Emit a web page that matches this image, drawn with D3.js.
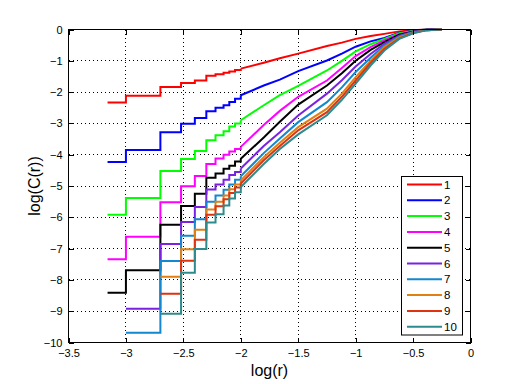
<!DOCTYPE html>
<meta charset="utf-8">
<head>
  <script src="https://d3js.org/d3.v7.min.js"></script>
  <style>
    body { margin: 0; background: #fff; }
    .axis text { font: 11px "Liberation Sans", Arial, sans-serif; fill: #000; }
    .axis path, .axis line { stroke: #000; shape-rendering: crispEdges; }
    .grid line { stroke: #000; stroke-dasharray: 1,3; shape-rendering: crispEdges; }
    .curve { fill: none; stroke-width: 2px; }
    .label { font: 16px "Liberation Sans", Arial, sans-serif; fill: #000; }
    .legend text { font: 11.5px "Liberation Sans", Arial, sans-serif; fill: #000; }
  </style>
</head>
<body>
<script>

// log(r) sample positions: stairs up to -2, then the smoother part
var logR = [-3.16, -3, -2.7, -2.52, -2.4, -2.3, -2.22, -2.15, -2.1, -2.05, -2,
            -1.8, -1.66, -1.5, -1.25, -1.12, -1, -0.87, -0.75, -0.62, -0.5, -0.38, -0.25];
var nStairs = 11;

var seriesNames = ["1", "2", "3", "4", "5", "6", "7", "8", "9", "10"];
var colors = ["#ff0000", "#0000ff", "#00ff00", "#ff00ff", "#000000",
              "#7b22e0", "#1387d0", "#e08010", "#dd3311", "#2e8b8b"];

var s1  = [-2.33, -2.12, -1.84, -1.71, -1.63, -1.48, -1.43, -1.38, -1.34, -1.29, -1.25,
           -1.06, -0.92, -0.77, -0.53, -0.42, -0.3, -0.21, -0.14, -0.06, -0.02, 0, 0];
var s2  = [-4.23, -3.85, -3.28, -3.01, -2.83, -2.61, -2.5, -2.42, -2.32, -2.21, -2.1,
           -1.79, -1.6, -1.33, -0.99, -0.77, -0.55, -0.38, -0.27, -0.1, -0.04, 0, 0];
var s3  = [-5.92, -5.38, -4.52, -4.14, -3.88, -3.54, -3.38, -3.25, -3.1, -3.0, -2.9,
           -2.42, -2.1, -1.8, -1.31, -1.0, -0.7, -0.47, -0.3, -0.12, -0.05, 0, 0];
var s4  = [-7.34, -6.62, -5.52, -5.01, -4.68, -4.3, -4.12, -4.0, -3.9, -3.82, -3.75,
           -3.05, -2.6, -2.15, -1.63, -1.23, -0.85, -0.56, -0.35, -0.15, -0.06, -0.01, 0];
var s5  = [-8.41, -7.69, -6.24, -5.64, -5.25, -4.74, -4.6, -4.45, -4.35, -4.22, -4.13,
           -3.45, -2.95, -2.4, -1.79, -1.4, -1.0, -0.65, -0.4, -0.17, -0.07, -0.01, 0];
var s6  = [null, -8.92, -6.85, -6.15, -5.67, -5.11, -4.95, -4.8, -4.65, -4.55, -4.44,
           -3.72, -3.28, -2.75, -2.05, -1.62, -1.18, -0.78, -0.46, -0.2, -0.08, -0.01, 0];
var s7  = [null, -9.69, -7.4, -6.59, -6.06, -5.5, -5.3, -5.12, -4.95, -4.8, -4.69,
           -3.95, -3.48, -2.96, -2.32, -1.85, -1.36, -0.9, -0.51, -0.22, -0.09, -0.02, 0];
var s8  = [null, null, -7.9, -7.02, -6.4, -5.75, -5.5, -5.3, -5.1, -4.95, -4.82,
           -4.08, -3.62, -3.12, -2.53, -2.05, -1.52, -1.0, -0.56, -0.25, -0.1, -0.02, 0];
var s9  = [null, null, -8.44, -7.39, -6.72, -5.92, -5.65, -5.42, -5.22, -5.05, -4.92,
           -4.18, -3.72, -3.22, -2.64, -2.15, -1.63, -1.07, -0.62, -0.28, -0.11, -0.02, 0];
var s10 = [null, null, -9.08, -7.77, -7.01, -6.17, -5.9, -5.62, -5.4, -5.2, -5.03,
           -4.3, -3.82, -3.35, -2.74, -2.25, -1.73, -1.15, -0.67, -0.3, -0.12, -0.02, 0];
var allSeries = [s1, s2, s3, s4, s5, s6, s7, s8, s9, s10];

var xTicks = [-3.5, -3, -2.5, -2, -1.5, -1, -0.5, 0];
var yTicks = [-10, -9, -8, -7, -6, -5, -4, -3, -2, -1, 0];

var width = 520, height = 384;
var pLeft = 68.5, pRight = 470.5, pTop = 29.5, pBottom = 342.5;

var svg = d3.select("body").append("svg")
    .attr("width", width)
    .attr("height", height);

svg.append("rect").attr("width", width).attr("height", height).attr("fill", "#fff");

var x = d3.scaleLinear().domain([-3.5, 0]).range([pLeft, pRight]);
var y = d3.scaleLinear().domain([-10, 0]).range([pBottom, pTop]);

// dotted grid
var grid = svg.append("g").attr("class", "grid");
grid.selectAll("line.v").data(xTicks.slice(1, -1)).enter().append("line")
    .attr("x1", function(d) { return x(d); }).attr("x2", function(d) { return x(d); })
    .attr("y1", pTop).attr("y2", pBottom);
grid.selectAll("line.h").data(yTicks.slice(1, -1)).enter().append("line")
    .attr("x1", pLeft).attr("x2", pRight)
    .attr("y1", function(d) { return y(d); }).attr("y2", function(d) { return y(d); });

// curves
var stairs = d3.line()
    .defined(function(d) { return d[1] != null; })
    .x(function(d) { return x(d[0]); })
    .y(function(d) { return y(d[1]); })
    .curve(d3.curveStepAfter);
var smooth = d3.line()
    .x(function(d) { return x(d[0]); })
    .y(function(d) { return y(d[1]); });

allSeries.forEach(function(vals, i) {
  var pts = logR.map(function(r, j) { return [r, vals[j]]; });
  svg.append("path")
      .attr("class", "curve")
      .attr("stroke", colors[i])
      .attr("d", stairs(pts.slice(0, nStairs)) + smooth(pts.slice(nStairs - 1)));
});

// axes with inward ticks on all four sides
svg.append("g").attr("class", "axis")
    .attr("transform", "translate(0," + pBottom + ")")
    .call(d3.axisBottom(x).tickValues(xTicks).tickSize(-5).tickPadding(7)
      .tickFormat(function(d) { return d3.format("")(d); }))
    .call(function(g) { g.select(".domain").remove(); });
svg.append("g").attr("class", "axis")
    .attr("transform", "translate(0," + pTop + ")")
    .call(d3.axisTop(x).tickValues(xTicks).tickSize(-5).tickFormat(""))
    .call(function(g) { g.select(".domain").remove(); });
svg.append("g").attr("class", "axis")
    .attr("transform", "translate(" + pLeft + ",0)")
    .call(d3.axisLeft(y).tickValues(yTicks).tickSize(-5).tickPadding(6)
      .tickFormat(function(d) { return d3.format("")(d); }))
    .call(function(g) { g.select(".domain").remove(); });
svg.append("g").attr("class", "axis")
    .attr("transform", "translate(" + pRight + ",0)")
    .call(d3.axisRight(y).tickValues(yTicks).tickSize(-5).tickFormat(""))
    .call(function(g) { g.select(".domain").remove(); });

svg.append("rect")
    .attr("x", pLeft).attr("y", pTop)
    .attr("width", pRight - pLeft).attr("height", pBottom - pTop)
    .attr("fill", "none").attr("stroke", "#000");

// axis labels
svg.append("text").attr("class", "label")
    .attr("x", (pLeft + pRight) / 2).attr("y", 376)
    .attr("text-anchor", "middle")
    .text("log(r)");
svg.append("text").attr("class", "label")
    .attr("transform", "translate(40," + (pTop + pBottom) / 2 + ") rotate(-90)")
    .attr("text-anchor", "middle")
    .text("log(C(r))");

// legend
var lg = svg.append("g").attr("class", "legend");
lg.append("rect")
    .attr("x", 401.5).attr("y", 176.5)
    .attr("width", 61).attr("height", 158.5)
    .attr("fill", "#fff").attr("stroke", "#000");
seriesNames.forEach(function(name, i) {
  var ly = 184.5 + i * 15.8;
  lg.append("line")
      .attr("x1", 407).attr("x2", 442)
      .attr("y1", ly).attr("y2", ly)
      .attr("stroke", colors[i]).attr("stroke-width", 2);
  lg.append("text")
      .attr("x", 444).attr("y", ly + 4)
      .text(name);
});
</script>
</body>
